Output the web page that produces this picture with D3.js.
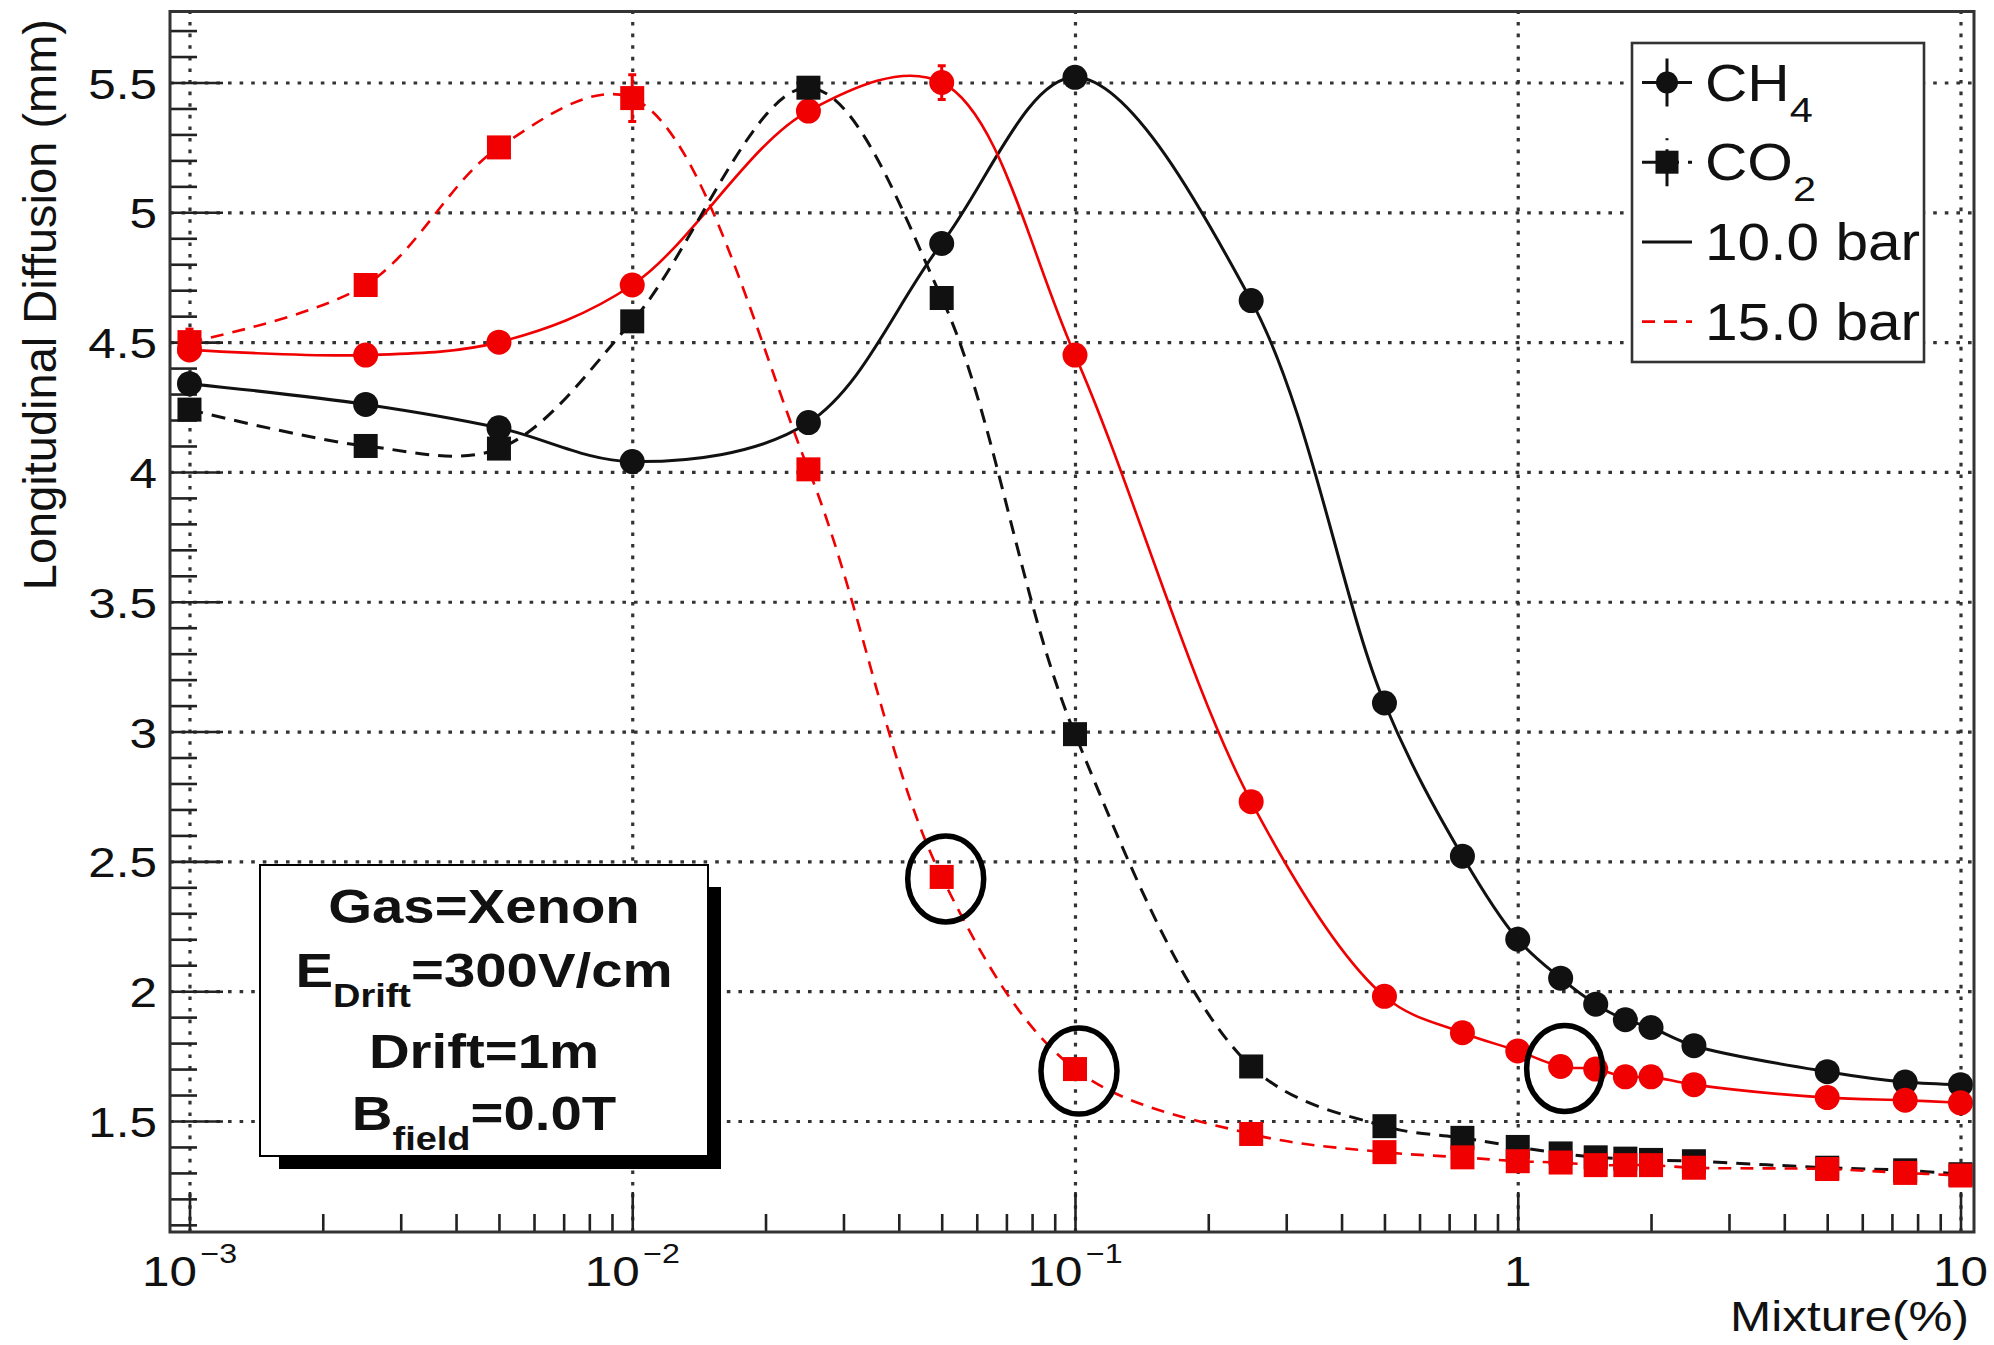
<!DOCTYPE html>
<html>
<head>
<meta charset="utf-8">
<script src="https://cdn.jsdelivr.net/npm/d3@7"></script>
<style>
  html, body { margin: 0; padding: 0; background: #fff; }
  svg { display: block; }
  text { font-family: "Liberation Sans", Arial, Helvetica, sans-serif; fill: #111; }
</style>
</head>
<body>
<svg id="chart" width="1994" height="1345"></svg>
<script>
// ---- data: longitudinal diffusion (mm) vs. quencher fraction (%) in xenon ----
const mixture = [0.001, 0.0025, 0.005, 0.01, 0.025, 0.05, 0.1, 0.25, 0.5, 0.75,
                 1, 1.25, 1.5, 1.75, 2, 2.5, 5, 7.5, 10];

const ch4At10 = [4.34, 4.26, 4.17, 4.04, 4.19, 4.88, 5.52, 4.66, 3.11, 2.52,
                 2.20, 2.05, 1.95, 1.89, 1.86, 1.79, 1.69, 1.65, 1.64];
const ch4At15 = [4.47, 4.45, 4.50, 4.72, 5.39, 5.50, 4.45, 2.73, 1.98, 1.84,
                 1.77, 1.71, 1.70, 1.67, 1.67, 1.64, 1.59, 1.58, 1.57];
const co2At10 = [4.24, 4.10, 4.09, 4.58, 5.48, 4.67, 2.99, 1.71, 1.48, 1.435,
                 1.40, 1.375, 1.36, 1.355, 1.35, 1.345, 1.32, 1.31, 1.295];
const co2At15 = [4.50, 4.72, 5.25, 5.44, 4.01, 2.44, 1.70, 1.45, 1.38, 1.36,
                 1.345, 1.34, 1.33, 1.33, 1.33, 1.32, 1.315, 1.30, 1.29];

const ch4At10Err = [0.02, 0.02, 0.02, 0.02, 0.02, 0.02, 0.02, 0.02, 0.02, 0.02,
                    0.02, 0.02, 0.02, 0.02, 0.02, 0.02, 0.02, 0.02, 0.02];
const ch4At15Err = [0.02, 0.02, 0.02, 0.02, 0.02, 0.065, 0.02, 0.02, 0.02, 0.02,
                    0.02, 0.02, 0.02, 0.02, 0.02, 0.02, 0.02, 0.02, 0.02];
const co2At10Err = [0.02, 0.02, 0.02, 0.02, 0.02, 0.02, 0.02, 0.02, 0.02, 0.02,
                    0.02, 0.02, 0.02, 0.02, 0.02, 0.02, 0.02, 0.02, 0.02];
const co2At15Err = [0.05, 0.02, 0.02, 0.09, 0.02, 0.02, 0.02, 0.02, 0.02, 0.02,
                    0.02, 0.02, 0.02, 0.02, 0.02, 0.02, 0.02, 0.02, 0.02];

// points singled out with a ring: [series key, index into mixture]
const ringedPoints = [["co2At15", 5], ["co2At15", 6], ["ch4At15", 11]];

// axis ticks and labels
const xMajorTicks = [0.001, 0.01, 0.1, 1, 10];
const xTickBase = ["10", "10", "10", "1", "10"];
const xTickExp  = ["\u22123", "\u22122", "\u22121", "", ""];
const yMajorTicks = [1.5, 2, 2.5, 3, 3.5, 4, 4.5, 5, 5.5];
const yTickLabels = ["1.5", "2", "2.5", "3", "3.5", "4", "4.5", "5", "5.5"];

const legendLabels = [["CH", "4"], ["CO", "2"], ["10.0 bar", ""], ["15.0 bar", ""]];
const infoLines = [
  [["Gas=Xenon", 0]],
  [["E", 0], ["Drift", 1], ["=300V/cm", 0]],
  [["Drift=1m", 0]],
  [["B", 0], ["field", 1], ["=0.0T", 0]]
];

// ---- layout ----
const RED = "#f00000";
const INK = "#111";
const SX = 1.15;   // horizontal stretch of the text face
const frame = { left: 170, right: 1974, top: 11.5, bottom: 1232 };
const svg = d3.select("#chart");

const x = d3.scaleLog()
  .domain([Math.pow(10, -3.044), Math.pow(10, 1.0305)])
  .range([frame.left, frame.right]);
const y = d3.scaleLinear()
  .domain([1.0724, 5.7735])
  .range([frame.bottom, frame.top]);

function stretchedText(parent, px, py, anchor, size, weight) {
  const g = parent.append("g").attr("transform", `translate(${px},${py}) scale(${SX},1)`);
  return g.append("text")
    .attr("text-anchor", anchor)
    .attr("font-size", size)
    .attr("font-weight", weight || "normal");
}

svg.append("rect").attr("width", 1994).attr("height", 1345).attr("fill", "#fff");

// ---- grid ----
const plotH = frame.bottom - frame.top;
const plotW = frame.right - frame.left;
const gridX = svg.append("g")
  .attr("transform", `translate(0,${frame.bottom})`)
  .call(d3.axisBottom(x).tickValues(xMajorTicks).tickSize(-plotH).tickFormat(""));
const gridY = svg.append("g")
  .attr("transform", `translate(${frame.left},0)`)
  .call(d3.axisLeft(y).tickValues(yMajorTicks).tickSize(-plotW).tickFormat(""));
[gridX, gridY].forEach(g => {
  g.select(".domain").remove();
  g.selectAll(".tick line")
    .attr("stroke", "#333").attr("stroke-width", 3.2)
    .attr("stroke-dasharray", "3.6 8");
});

// ---- tick marks ----
const [xd0, xd1] = x.domain();
const xMinorTicks = [];
for (let e = -4; e <= 1; e++) {
  for (let k = 2; k <= 9; k++) {
    const v = k * Math.pow(10, e);
    if (v > xd0 && v < xd1) xMinorTicks.push(v);
  }
}
const yMinorTicks = d3.range(11, 58).map(i => i / 10)
  .filter(v => v > y.domain()[0] && v < y.domain()[1] && Math.abs(v * 2 - Math.round(v * 2)) > 1e-6);

function tickLayer(axis, transform) {
  const g = svg.append("g").attr("transform", transform).call(axis);
  g.select(".domain").remove();
  g.selectAll(".tick line").attr("stroke", "#222").attr("stroke-width", 2.6);
  return g;
}
tickLayer(d3.axisBottom(x).tickValues(xMajorTicks).tickSize(-40).tickFormat(""), `translate(0,${frame.bottom})`);
tickLayer(d3.axisBottom(x).tickValues(xMinorTicks).tickSize(-18).tickFormat(""), `translate(0,${frame.bottom})`);
tickLayer(d3.axisLeft(y).tickValues(yMajorTicks).tickSize(-53).tickFormat(""), `translate(${frame.left},0)`);
tickLayer(d3.axisLeft(y).tickValues(yMinorTicks).tickSize(-27).tickFormat(""), `translate(${frame.left},0)`);

// ---- curves and markers ----
svg.append("clipPath").attr("id", "plotClip")
  .append("rect")
  .attr("x", frame.left).attr("y", frame.top)
  .attr("width", plotW).attr("height", plotH);

const series = {
  ch4At10: { values: ch4At10, err: ch4At10Err, color: INK, shape: "circle", dash: null, width: 3 },
  ch4At15: { values: ch4At15, err: ch4At15Err, color: RED, shape: "circle", dash: null, width: 2.6 },
  co2At10: { values: co2At10, err: co2At10Err, color: INK, shape: "square", dash: "14 9", width: 3 },
  co2At15: { values: co2At15, err: co2At15Err, color: RED, shape: "square", dash: "13 9", width: 2.6 }
};

const smooth = d3.line()
  .x(d => x(d[0]))
  .y(d => y(d[1]))
  .curve(d3.curveCatmullRom.alpha(0.5));

const plot = svg.append("g").attr("clip-path", "url(#plotClip)");
const R = 12.5, SQ = 24;

Object.values(series).forEach(s => {
  const pts = mixture.map((m, i) => [m, s.values[i], s.err[i]]);
  plot.append("path")
    .attr("d", smooth(pts))
    .attr("fill", "none")
    .attr("stroke", s.color)
    .attr("stroke-width", s.width)
    .attr("stroke-dasharray", s.dash);

  const bars = plot.append("g").attr("stroke", s.color).attr("stroke-width", 3);
  pts.forEach(p => {
    const yt = y(p[1] + p[2]), yb = y(p[1] - p[2]);
    bars.append("line").attr("x1", x(p[0])).attr("x2", x(p[0])).attr("y1", yt).attr("y2", yb);
    bars.append("line").attr("x1", x(p[0]) - 4).attr("x2", x(p[0]) + 4).attr("y1", yt).attr("y2", yt);
    bars.append("line").attr("x1", x(p[0]) - 4).attr("x2", x(p[0]) + 4).attr("y1", yb).attr("y2", yb);
  });

  const marks = plot.append("g").attr("fill", s.color);
  if (s.shape === "circle") {
    marks.selectAll("circle").data(pts).join("circle")
      .attr("cx", d => x(d[0])).attr("cy", d => y(d[1])).attr("r", R);
  } else {
    marks.selectAll("rect").data(pts).join("rect")
      .attr("x", d => x(d[0]) - SQ / 2).attr("y", d => y(d[1]) - SQ / 2)
      .attr("width", SQ).attr("height", SQ);
  }
});

// rings around selected points
ringedPoints.forEach(([key, i]) => {
  svg.append("ellipse")
    .attr("cx", x(mixture[i]) + 4).attr("cy", y(series[key].values[i]) + 2)
    .attr("rx", 38).attr("ry", 43)
    .attr("fill", "none").attr("stroke", "#000").attr("stroke-width", 5.5);
});

// ---- frame ----
svg.append("rect")
  .attr("x", frame.left).attr("y", frame.top)
  .attr("width", plotW).attr("height", plotH)
  .attr("fill", "none").attr("stroke", "#333").attr("stroke-width", 3);

// ---- tick labels ----
xMajorTicks.forEach((v, i) => {
  const t = stretchedText(svg, x(v), 1286, "middle", 43);
  t.append("tspan").text(xTickBase[i]);
  if (xTickExp[i]) {
    t.append("tspan").attr("dx", 3).attr("dy", -23).attr("font-size", 28).text(xTickExp[i]);
  }
});
yMajorTicks.forEach((v, i) => {
  stretchedText(svg, 157, y(v) + 16, "end", 43).text(yTickLabels[i]);
});

// ---- axis titles ----
stretchedText(svg, 1969, 1331, "end", 43).text("Mixture(%)");
svg.append("text")
  .attr("transform", "translate(56,19) rotate(-90)")
  .attr("text-anchor", "end")
  .attr("font-size", 47)
  .text("Longitudinal Diffusion (mm)");

// ---- legend ----
const leg = svg.append("g");
leg.append("rect")
  .attr("x", 1632).attr("y", 43).attr("width", 292).attr("height", 319)
  .attr("fill", "#fff").attr("stroke", "#333").attr("stroke-width", 2.6);
const rowY = i => 82.5 + i * 79.7;
const symX = 1667;
// CH4: marker with error cross
leg.append("line").attr("x1", symX - 25).attr("x2", symX + 25).attr("y1", rowY(0)).attr("y2", rowY(0))
  .attr("stroke", INK).attr("stroke-width", 3);
leg.append("line").attr("x1", symX).attr("x2", symX).attr("y1", rowY(0) - 24).attr("y2", rowY(0) + 24)
  .attr("stroke", INK).attr("stroke-width", 3);
leg.append("circle").attr("cx", symX).attr("cy", rowY(0)).attr("r", 11).attr("fill", INK);
// CO2: marker with dashed error cross
leg.append("line").attr("x1", symX - 25).attr("x2", symX + 25).attr("y1", rowY(1)).attr("y2", rowY(1))
  .attr("stroke", INK).attr("stroke-width", 3).attr("stroke-dasharray", "14 9");
leg.append("line").attr("x1", symX).attr("x2", symX).attr("y1", rowY(1) + 24).attr("y2", rowY(1) - 24)
  .attr("stroke", INK).attr("stroke-width", 3).attr("stroke-dasharray", "14 9");
leg.append("rect").attr("x", symX - 11.5).attr("y", rowY(1) - 11.5).attr("width", 23).attr("height", 23).attr("fill", INK);
// pressures: line styles
leg.append("line").attr("x1", symX - 25).attr("x2", symX + 25).attr("y1", rowY(2)).attr("y2", rowY(2))
  .attr("stroke", INK).attr("stroke-width", 3);
leg.append("line").attr("x1", symX - 25).attr("x2", symX + 25).attr("y1", rowY(3)).attr("y2", rowY(3))
  .attr("stroke", RED).attr("stroke-width", 2.6).attr("stroke-dasharray", "13 9");

legendLabels.forEach(([main, sub], i) => {
  const t = stretchedText(leg, 1705, rowY(i) + 18, "start", 51);
  t.append("tspan").text(main);
  if (sub) t.append("tspan").attr("dy", 21).attr("font-size", 36).text(sub);
});

// ---- info box ----
const info = svg.append("g");
info.append("rect").attr("x", 279).attr("y", 887).attr("width", 442).attr("height", 282).attr("fill", "#000");
info.append("rect").attr("x", 260).attr("y", 865).attr("width", 448).attr("height", 291)
  .attr("fill", "#fff").attr("stroke", "#000").attr("stroke-width", 2);
const infoBaselines = [922.5, 987, 1068, 1130];
infoLines.forEach((parts, li) => {
  const t = stretchedText(info, 484, infoBaselines[li], "middle", 49, "bold");
  let level = 0;
  parts.forEach(([txt, sub]) => {
    const ts = t.append("tspan").text(txt).attr("font-size", sub ? 33 : 49);
    if (sub !== level) { ts.attr("dy", sub ? 20 : -20); level = sub; }
  });
});
</script>
</body>
</html>
